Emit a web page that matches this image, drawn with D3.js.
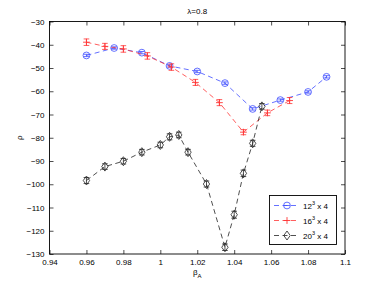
<!DOCTYPE html>
<html><head><meta charset="utf-8">
<script src="https://cdn.jsdelivr.net/npm/d3@7"></script>
<style>
html,body{margin:0;padding:0;background:#fff;}
svg{display:block;font-family:"Liberation Sans",Arial,Helvetica,sans-serif;}
</style></head>
<body>
<svg id="chart" width="382" height="286"></svg>
<script>
const title = "λ=0.8";
const xTicks = [0.94,0.96,0.98,1,1.02,1.04,1.06,1.08,1.1];
const yTicks = [-30,-40,-50,-60,-70,-80,-90,-100,-110,-120,-130];

const beta12 = [0.96,0.975,0.99,1.005,1.02,1.035,1.05,1.065,1.08,1.09];
const rho12  = [-44.6,-41.4,-43.4,-49.1,-51.5,-56.5,-67.6,-63.8,-60.3,-53.8];
const err12  = [0.5,0.5,0.5,0.5,0.5,0.5,0.5,0.5,0.5,0.5];

const beta16 = [0.96,0.97,0.98,0.993,1.006,1.019,1.032,1.045,1.058,1.07];
const rho16  = [-38.9,-40.7,-41.8,-44.8,-49.6,-56.2,-64.9,-77.6,-69.3,-64.0];
const err16  = [1.4,1.3,1.4,1.4,1.4,1.3,1.3,1.1,1.2,1.3];

const beta20 = [0.96,0.97,0.98,0.99,1.0,1.005,1.01,1.015,1.025,1.035,1.04,1.045,1.05,1.055];
const rho20  = [-98.4,-92.4,-90.1,-86.2,-83.1,-79.6,-78.8,-86.2,-99.9,-127.1,-113.1,-95.3,-82.4,-66.5];
const err20  = [1.3,1.2,1.2,1.2,1.2,1.3,1.2,1.2,1.3,1.4,1.5,1.4,1.3,1.2];

const seriesNames = ["12", "16", "20"];

const svg = d3.select("#chart");
const L = 49.5, R = 345, T = 21.5, B = 254;
const x = d3.scaleLinear().domain([0.94,1.1]).range([L,R]);
const y = d3.scaleLinear().domain([-130,-30]).range([B,T]);

const fs = "8px";
// axes
const axB = d3.axisBottom(x).tickValues(xTicks).tickSize(-4).tickPadding(5).tickFormat(d3.format("~g"));
const axT = d3.axisTop(x).tickValues(xTicks).tickSize(-4).tickFormat("");
const axL = d3.axisLeft(y).tickValues(yTicks).tickSize(-4).tickPadding(5).tickFormat(d => d.toString().replace("-", "\u2212"));
const axR = d3.axisRight(y).tickValues(yTicks).tickSize(-4).tickFormat("");

function style(g){ g.select(".domain").remove(); g.selectAll("line").attr("stroke","#000").attr("stroke-width",0.7); g.selectAll("text").attr("font-size",fs).attr("fill","#000"); }
svg.append("g").attr("transform",`translate(0,${B})`).call(axB).call(style);
svg.append("g").attr("transform",`translate(0,${T})`).call(axT).call(style);
svg.append("g").attr("transform",`translate(${L},0)`).call(axL).call(style);
svg.append("g").attr("transform",`translate(${R},0)`).call(axR).call(style);
svg.append("rect").attr("x",L).attr("y",T).attr("width",R-L).attr("height",B-T).attr("fill","none").attr("stroke","#000").attr("stroke-width",0.9);

// labels
svg.append("text").attr("x",(L+R)/2).attr("y",14).attr("text-anchor","middle").attr("font-size",fs).text(title);
const xl = svg.append("text").attr("x",(L+R)/2).attr("y",275).attr("text-anchor","middle").attr("font-size",fs);
xl.append("tspan").text("β");
xl.append("tspan").attr("font-size","6px").attr("dy",3).text("A");
svg.append("text").attr("transform",`translate(22,${(T+B)/2}) rotate(-90)`).attr("text-anchor","middle").attr("font-size",fs).text("ρ");

const colors = ["#3d4dff","#ff3535","#222"];
const data = [
  {b:beta12, r:rho12, e:err12, c:colors[0], m:"circle"},
  {b:beta16, r:rho16, e:err16, c:colors[1], m:"plus"},
  {b:beta20, r:rho20, e:err20, c:colors[2], m:"diamond"}
];

function marker(g, type, c){
  if(type==="circle") g.append("circle").attr("r",3.4).attr("fill","none").attr("stroke",c).attr("stroke-width",0.8);
  else if(type==="plus"){ g.append("path").attr("d","M-3.4,0H3.4M0,-3.4V3.4").attr("stroke",c).attr("stroke-width",0.9); }
  else g.append("path").attr("d","M0,-4.5L3.2,0L0,4.5L-3.2,0Z").attr("fill","none").attr("stroke",c).attr("stroke-width",0.8);
}

const line = d3.line();
data.forEach(s => {
  const pts = s.b.map((b,i)=>[x(b), y(s.r[i])]);
  svg.append("path").attr("d",line(pts)).attr("fill","none").attr("stroke",s.c).attr("stroke-width",0.8).attr("stroke-dasharray","5,3.5");
  const g = svg.append("g");
  s.b.forEach((b,i)=>{
    const px = x(b), y1 = y(s.r[i]+s.e[i]), y2 = y(s.r[i]-s.e[i]);
    const cw = 2.8;
    g.append("path").attr("d",`M${px},${y1}V${y2}M${px-cw},${y1}H${px+cw}M${px-cw},${y2}H${px+cw}`).attr("stroke",s.c).attr("stroke-width",0.8).attr("fill","none");
    const mg = g.append("g").attr("transform",`translate(${px},${y(s.r[i])})`);
    marker(mg, s.m, s.c);
  });
});

// legend
const lg = svg.append("g");
lg.append("rect").attr("x",269.5).attr("y",195.5).attr("width",67).attr("height",49).attr("fill","#fff").attr("stroke","#000").attr("stroke-width",0.9);
const ly = [205.5,220.5,235.5];
data.forEach((s,i)=>{
  lg.append("line").attr("x1",274).attr("x2",299).attr("y1",ly[i]).attr("y2",ly[i]).attr("stroke",s.c).attr("stroke-width",0.8).attr("stroke-dasharray","5,3.5");
  const mg = lg.append("g").attr("transform",`translate(287,${ly[i]})`);
  if(s.m==="circle"){ marker(mg,s.m,s.c); mg.append("path").attr("d","M-3,0H3").attr("stroke",s.c).attr("stroke-width",0.8); }
  else marker(mg,s.m,s.c);
  const t = lg.append("text").attr("x",303).attr("y",ly[i]+3).attr("font-size",fs);
  t.append("tspan").text(seriesNames[i]);
  t.append("tspan").attr("font-size","5.5px").attr("dy",-4).text("3");
  t.append("tspan").attr("dy",4).text(" x 4");
});
</script>
</body></html>
